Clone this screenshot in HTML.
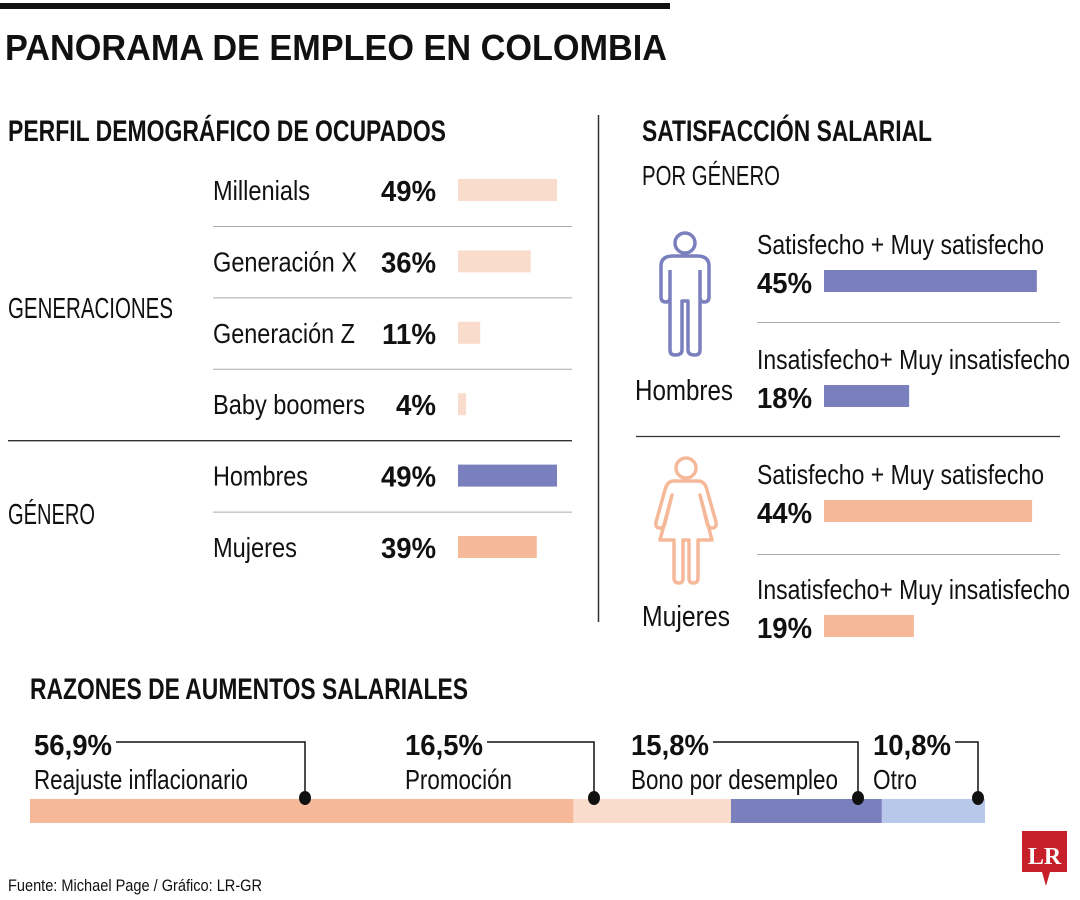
<!DOCTYPE html>
<html><head><meta charset="utf-8"><style>
html,body{margin:0;padding:0;background:#fff;width:1080px;height:900px;overflow:hidden}
svg{display:block;font-family:"Liberation Sans Narrow","Liberation Sans",sans-serif}
.t{fill:#111}
</style></head><body>
<svg id="c" width="1080" height="900" viewBox="0 0 1080 900">
<rect x="0" y="3" width="670" height="6" fill="#111"/>
<text x="5" y="60" font-size="36" font-weight="bold" font-family="Liberation Sans" textLength="662" lengthAdjust="spacingAndGlyphs" class="t">PANORAMA DE EMPLEO EN COLOMBIA</text>
<text x="8" y="141" font-size="30" font-weight="bold" textLength="438" lengthAdjust="spacingAndGlyphs" class="t">PERFIL DEMOGRÁFICO DE OCUPADOS</text>
<line x1="598.5" y1="115" x2="598.5" y2="622" stroke="#333" stroke-width="1.5"/>
<text x="642" y="141" font-size="30" font-weight="bold" textLength="290" lengthAdjust="spacingAndGlyphs" class="t">SATISFACCIÓN SALARIAL</text>
<text x="642" y="185" font-size="28" textLength="138" lengthAdjust="spacingAndGlyphs" class="t">POR GÉNERO</text>
<text x="8" y="318" font-size="29" textLength="165" lengthAdjust="spacingAndGlyphs" class="t">GENERACIONES</text>
<text x="8" y="524" font-size="29" textLength="87" lengthAdjust="spacingAndGlyphs" class="t">GÉNERO</text>
<text x="30" y="699" font-size="30" font-weight="bold" textLength="438" lengthAdjust="spacingAndGlyphs" class="t">RAZONES DE AUMENTOS SALARIALES</text>
<text x="8" y="891" font-size="17" textLength="254" lengthAdjust="spacingAndGlyphs" class="t">Fuente: Michael Page / Gráfico: LR-GR</text>
<g>
<path d="M1022 831 H1067 V872 H1050 L1046 886 L1042 872 H1022 Z" fill="#c8202a"/>
<text x="1044.5" y="864" font-size="24" font-weight="bold" fill="#fff" text-anchor="middle" font-family="Liberation Serif,serif">LR</text>
</g>
<g fill="none" stroke="#7a7fbd" stroke-width="3.5" stroke-linejoin="round">
<circle cx="685" cy="243" r="10"/>
<path d="M673 256 H697 Q709 256 709 266 V297 Q709 302 704 302 Q700 302 700 297 V270 M700 270 V350 Q700 355 695 355 Q688 355 688 350 V301 H682 V350 Q682 355 675 355 Q670 355 670 350 V270 M670 270 V297 Q670 302 666 302 Q661 302 661 297 V266 Q661 256 673 256"/>
</g>
<g fill="none" stroke="#f5b99a" stroke-width="3.5" stroke-linejoin="round">
<circle cx="686" cy="468" r="10"/>
<path d="M674 481 H698 Q705 481 707 490 L716 522 Q717 528 712 528 Q708 528 707 523 L700 495 L712 540 H698 V578 Q698 583 693 583 Q689 583 689 578 V540 H683 V578 Q683 583 679 583 Q674 583 674 578 V540 H660 L672 495 L665 523 Q664 528 660 528 Q655 528 656 522 L665 490 Q667 481 674 481"/>
</g>
<text x="635" y="400" font-size="29" textLength="98" lengthAdjust="spacingAndGlyphs" class="t">Hombres</text>
<text x="642" y="626" font-size="29" textLength="88" lengthAdjust="spacingAndGlyphs" class="t">Mujeres</text>
<line x1="636" y1="436.5" x2="1060" y2="436.5" stroke="#333" stroke-width="1.2"/>
<line x1="757" y1="322.5" x2="1060" y2="322.5" stroke="#aaa" stroke-width="1"/>
<line x1="757" y1="554.5" x2="1060" y2="554.5" stroke="#aaa" stroke-width="1"/>
<g id="left"></g><g id="right"></g><g id="bottom"></g>
</svg>
<script>
var NS="http://www.w3.org/2000/svg";
function mk(tag,attrs,parent,txt){var e=document.createElementNS(NS,tag);for(var k in attrs)e.setAttribute(k,attrs[k]);if(txt!==undefined)e.textContent=txt;parent.appendChild(e);return e;}
// Left chart data
var demoCategories=["Millenials","Generación X","Generación Z","Baby boomers","Hombres","Mujeres"];
var demoValues=[49,36,11,4,49,39];
var demoLabels=["49%","36%","11%","4%","49%","39%"];
// Right chart data
var satCategories=["Satisfecho + Muy satisfecho","Insatisfecho+ Muy insatisfecho","Satisfecho + Muy satisfecho","Insatisfecho+ Muy insatisfecho"];
var satValues=[45,18,44,19];
var satLabels=["45%","18%","44%","19%"];
// Bottom chart data
var reasonCategories=["Reajuste inflacionario","Promoción","Bono por desempleo","Otro"];
var reasonValues=[56.9,16.5,15.8,10.8];
var reasonLabels=["56,9%","16,5%","15,8%","10,8%"];

function narrow(el,f){
  el.setAttribute("textLength",Math.round(el.getComputedTextLength()*f));
  el.setAttribute("lengthAdjust","spacingAndGlyphs");
}
var demoColors=["#fadccd","#fadccd","#fadccd","#fadccd","#7a7fbd","#f5b99a"];
var L=document.getElementById("left");
function xDemo(v){return v*2.02;}
for(var i=0;i<demoValues.length;i++){
  var cy=190+i*71.4;
  var t=mk("text",{x:213,y:cy+10,"font-size":28,"class":"t"},L,demoCategories[i]);
  
  
  narrow(t,0.84);
  var p=mk("text",{x:436,y:cy+11,"font-size":29,"font-weight":"bold","text-anchor":"end","class":"t"},L,demoLabels[i]);
  
  
  narrow(p,0.95);
  var r=mk("rect",{x:458,y:cy-11,width:xDemo(demoValues[i]),height:22,fill:demoColors[i]},L);
  
  
  if(i<demoValues.length-1){
    var full=(i==3);
    var ln=mk("line",{x1:full?8:213,x2:572,y1:cy+36+0.5,y2:cy+36+0.5,stroke:full?"#333":"#aaa","stroke-width":full?1.3:1},L);
    
    
  }
}
var R=document.getElementById("right");
var satColors=["#7a7fbd","#7a7fbd","#f5b99a","#f5b99a"];
var satY=[281,396,511,626];
function xSat(v){return v*4.73;}
for(var j=0;j<satValues.length;j++){
  var y=satY[j];
  var t2=mk("text",{x:757,y:y-27,"font-size":28,"class":"t"},R,satCategories[j]);
  
  
  narrow(t2,0.82);
  var p2=mk("text",{x:757,y:y+12,"font-size":29,"font-weight":"bold","class":"t"},R,satLabels[j]);
  
  
  narrow(p2,0.95);
  var r2=mk("rect",{x:824,y:y-11,width:xSat(satValues[j]),height:22,fill:satColors[j]},R);
  
  
}
var B=document.getElementById("bottom");
var reasonColors=["#f5b99a","#fadccd","#7a7fbd","#b8c8ea"];
var total=reasonValues.reduce(function(a,b){return a+b;},0);
function xR(v){return v/total*955;}
var labelX=[34,405,631,873];
var dotFromLabel=[271,189,227,105];
var cum=30;
for(var k=0;k<reasonValues.length;k++){
  var w=xR(reasonValues[k]);
  var r3=mk("rect",{x:cum,y:799,width:w,height:24,fill:reasonColors[k]},B);
  
  
  var lx=labelX[k];
  var dotX=lx+dotFromLabel[k];
  var pv=mk("text",{x:lx,y:755,"font-size":29,"font-weight":"bold","class":"t"},B,reasonLabels[k]);
  
  
  narrow(pv,0.95);
  var lb=mk("text",{x:lx,y:789,"font-size":28,"class":"t"},B,reasonCategories[k]);
  
  
  narrow(lb,0.8);
  var startX=lx+(+pv.getAttribute("textLength"))+4;
  var pl=mk("polyline",{points:startX+",742 "+dotX+",742 "+dotX+",797",fill:"none",stroke:"#111","stroke-width":1.5},B);
  
  
  var d=mk("ellipse",{cx:dotX,cy:798,rx:6,ry:7,fill:"#111"},B);
  
  
  cum+=w;
}
</script>
</body></html>
